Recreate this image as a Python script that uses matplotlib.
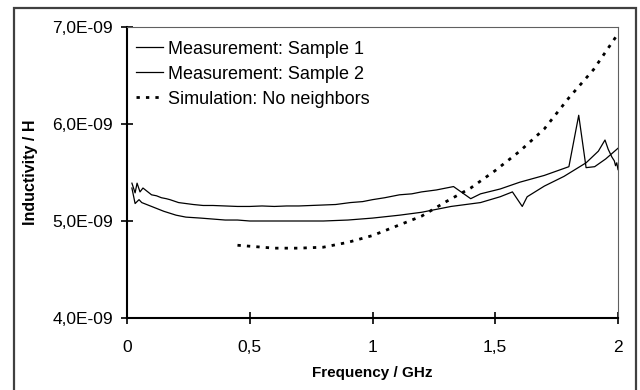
import numpy as np
import matplotlib.pyplot as plt
from matplotlib.patches import Rectangle
from matplotlib.ticker import FuncFormatter, FixedLocator

plt.rcParams['font.family'] = ['Liberation Sans', 'DejaVu Sans']

# Measurement: Sample 1 (frequency in GHz, inductivity in nH)
f1 = [0.02, 0.033, 0.041, 0.053, 0.065, 0.08, 0.10, 0.12, 0.14, 0.16, 0.175,
      0.21, 0.24, 0.27, 0.31, 0.35, 0.40, 0.45, 0.50, 0.55, 0.60, 0.65, 0.70,
      0.75, 0.80, 0.85, 0.91, 0.96, 1.00, 1.05, 1.11, 1.16, 1.20, 1.26, 1.33,
      1.40, 1.44, 1.52, 1.60, 1.70, 1.80, 1.84, 1.87, 1.905, 1.95, 2.00]
L1 = [5.39, 5.29, 5.39, 5.30, 5.34, 5.31, 5.27, 5.26, 5.24, 5.23, 5.22,
      5.19, 5.18, 5.17, 5.16, 5.16, 5.155, 5.15, 5.15, 5.155, 5.15, 5.155, 5.155,
      5.16, 5.165, 5.17, 5.19, 5.20, 5.22, 5.24, 5.27, 5.28, 5.30, 5.32, 5.355,
      5.23, 5.28, 5.33, 5.40, 5.47, 5.56, 6.09, 5.55, 5.56, 5.64, 5.75]

# Measurement: Sample 2
f2 = [0.02, 0.033, 0.049, 0.06, 0.08, 0.10, 0.15, 0.20, 0.24, 0.30, 0.35,
      0.40, 0.45, 0.50, 0.60, 0.70, 0.80, 0.90, 1.00, 1.11, 1.20, 1.32, 1.44,
      1.52, 1.57, 1.61, 1.63, 1.70, 1.78, 1.87, 1.92, 1.947, 1.96, 1.975,
      1.985, 1.99, 1.995, 2.00]
L2 = [5.34, 5.18, 5.22, 5.19, 5.17, 5.15, 5.10, 5.06, 5.04, 5.03, 5.02,
      5.01, 5.01, 5.00, 5.00, 5.00, 5.00, 5.01, 5.03, 5.06, 5.09, 5.15, 5.19,
      5.25, 5.30, 5.15, 5.25, 5.36, 5.46, 5.60, 5.72, 5.835, 5.74, 5.66,
      5.62, 5.57, 5.60, 5.53]

# Simulation: No neighbors
fs = [0.45, 0.50, 0.60, 0.70, 0.80, 0.90, 1.00, 1.10, 1.20, 1.30, 1.40,
      1.50, 1.60, 1.70, 1.80, 1.90, 2.00]
Ls = [4.75, 4.74, 4.72, 4.72, 4.73, 4.78, 4.85, 4.95, 5.05, 5.20, 5.34,
      5.52, 5.72, 5.95, 6.27, 6.56, 6.93]

labels = ["Measurement: Sample 1", "Measurement: Sample 2",
          "Simulation: No neighbors"]
yticks = [4e-9, 5e-9, 6e-9, 7e-9]
xticks = [0, 0.5, 1, 1.5, 2]

fig = plt.figure(figsize=(6.4, 3.9), dpi=100)
ax = fig.add_axes([127 / 640, 1 - 318 / 390, 491 / 640, 291 / 390])

ax.plot(f1, np.array(L1) * 1e-9, color='black', lw=0.9, label=labels[0])
ax.plot(f2, np.array(L2) * 1e-9, color='black', lw=0.9, label=labels[1])
ax.plot(fs, np.array(Ls) * 1e-9, color='black', lw=2.0,
        linestyle=(0, (1.2, 2.2)), label=labels[2])

ax.set_xlim(0, 2)
ax.set_ylim(4e-9, 7e-9)
ax.xaxis.set_major_locator(FixedLocator(xticks))
ax.yaxis.set_major_locator(FixedLocator(yticks))
ax.xaxis.set_major_formatter(FuncFormatter(lambda v, p: f"{v:g}".replace('.', ',')))
ax.yaxis.set_major_formatter(FuncFormatter(lambda v, p: f"{v:.1E}".replace('.', ',')))
ax.tick_params(direction='inout', length=8, width=1.2, labelsize=12.5, pad=6)
ax.tick_params(axis='x', pad=12)

for s in ['left', 'bottom']:
    ax.spines[s].set_linewidth(1.5)
for s in ['top', 'right']:
    ax.spines[s].set_linewidth(0.8)
    ax.spines[s].set_color('#606060')

ax.set_xlabel("Frequency / GHz", fontsize=11, fontweight='bold', labelpad=8)
ax.set_ylabel("Inductivity / H", fontsize=11.5, fontweight='bold', labelpad=10)

ax.legend(loc='upper left', bbox_to_anchor=(-0.009, 1.0), frameon=False,
          fontsize=13, handlelength=1.5, handletextpad=0.25,
          labelspacing=0.45, borderpad=0.55, borderaxespad=0.2)

# outer chart frame
fig.patches.append(Rectangle((14 / 640, -0.05), 622 / 640, 1.05 - 8 / 390,
                             transform=fig.transFigure, fill=False,
                             edgecolor='#404040', lw=1.6))

fig.savefig("out.png", dpi=100)
